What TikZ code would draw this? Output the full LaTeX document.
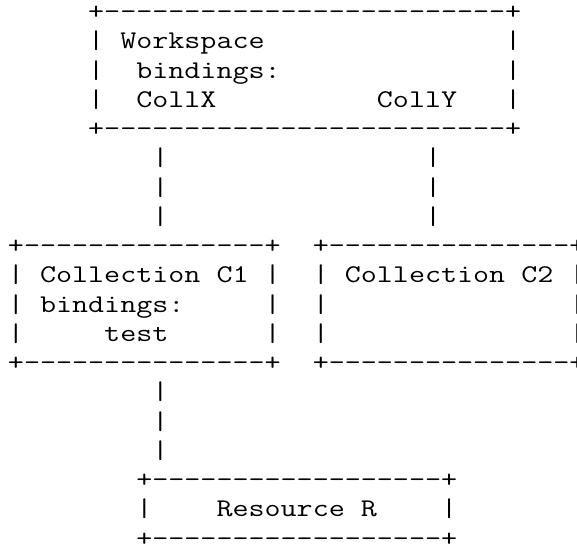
\documentclass[tikz,border=0pt]{standalone}
\usepackage{graphicx}
\newcommand\ascfont{\ttfamily\fontsize{25.5}{29.25}\selectfont\frenchspacing}
\tikzset{
  asc/.style={anchor=base west, inner sep=0pt, outer sep=0pt,
    font=\ascfont, text=black},
}
\newlength\cwid
\newcommand\hyph[1]{\foreach\i in {1,...,#1}{-\kern0pt}}
\newcommand\sps[1]{\foreach\i in {1,...,#1}{\ }}
\newcommand\ascl[4]{\node[asc] (#1) at ({8+16.04*#2},{19.7+29.25*#3}) {\scalebox{\kx}[1]{#4}};}
\begin{document}
\settowidth\cwid{\ascfont M}
\pgfmathsetmacro\kx{16.04/(\cwid)}
\begin{tikzpicture}[x=1pt,y=-1pt]
\useasboundingbox (0,0) rectangle (577,546);
% Workspace box
\ascl{ws0}{5}{0}{+\hyph{25}+}
\ascl{ws1}{5}{1}{|\ Workspace\sps{15}|}
\ascl{ws2}{5}{2}{|\sps{2}bindings:\sps{14}|}
\ascl{ws3}{5}{3}{|\sps{2}CollX\sps{10}CollY\sps{3}|}
\ascl{ws4}{5}{4}{+\hyph{25}+}
% connectors from workspace
\ascl{a1}{9}{5}{|}
\ascl{a2}{9}{6}{|}
\ascl{a3}{9}{7}{|}
\ascl{b1}{26}{5}{|}
\ascl{b2}{26}{6}{|}
\ascl{b3}{26}{7}{|}
% Collection C1
\ascl{ca0}{0}{8}{+\hyph{15}+}
\ascl{ca1}{0}{9}{|\ Collection\ C1\ |}
\ascl{ca2}{0}{10}{|\ bindings:\sps{5}|}
\ascl{ca3}{0}{11}{|\sps{5}test\sps{6}|}
\ascl{ca4}{0}{12}{+\hyph{15}+}
% Collection C2
\ascl{cb0}{19}{8}{+\hyph{15}+}
\ascl{cb1}{19}{9}{|\ Collection\ C2\ |}
\ascl{cb2}{19}{10}{|\sps{15}|}
\ascl{cb3}{19}{11}{|\sps{15}|}
\ascl{cb4}{19}{12}{+\hyph{15}+}
% connector to resource
\ascl{d1}{9}{13}{|}
\ascl{d2}{9}{14}{|}
\ascl{d3}{9}{15}{|}
% Resource R
\ascl{r0}{8}{16}{+\hyph{18}+}
\ascl{r1}{8}{17}{|\sps{4}Resource\ R\sps{4}|}
\ascl{r2}{8}{18}{+\hyph{18}+}
\end{tikzpicture}
\end{document}
